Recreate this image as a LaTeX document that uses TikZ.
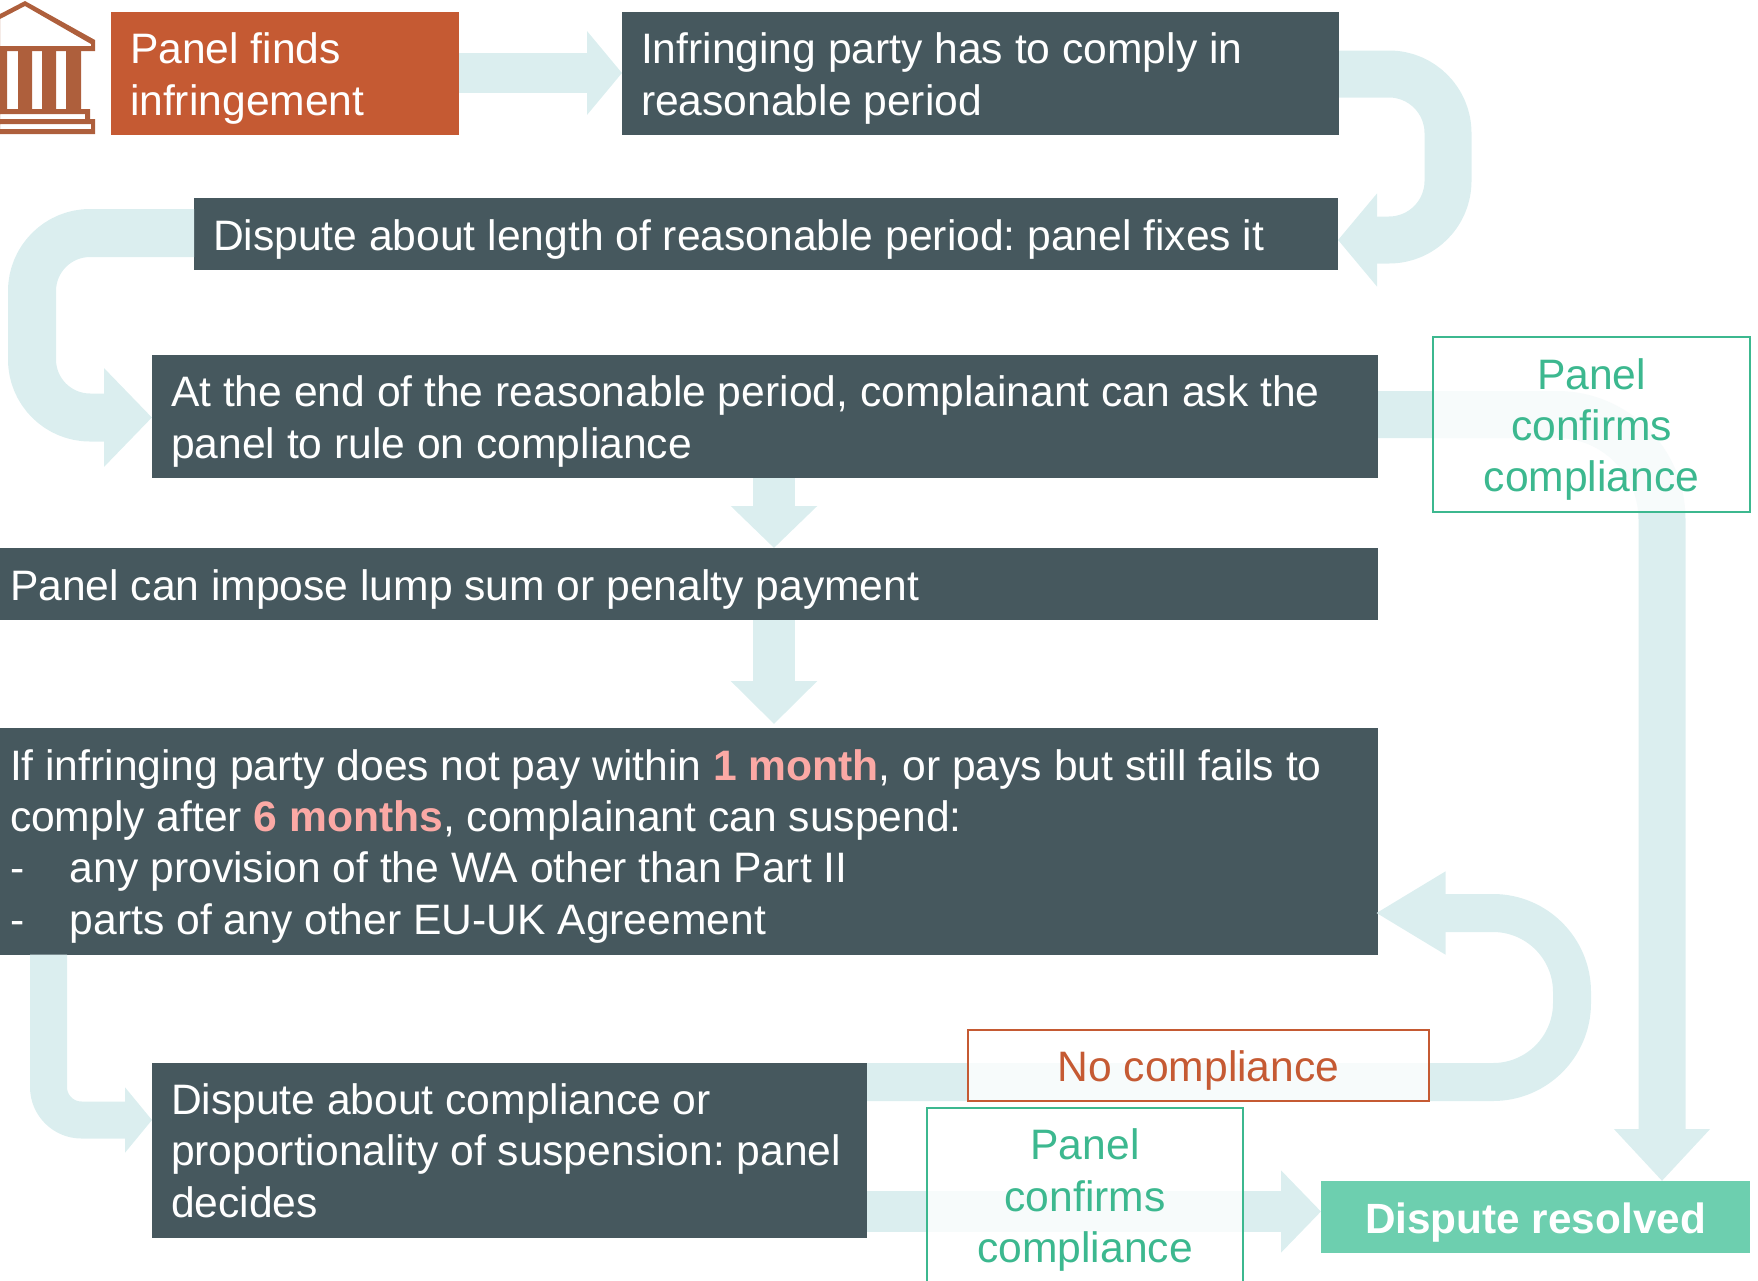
\documentclass[tikz,border=0pt]{standalone}
\usepackage{fontspec}
\setmainfont{Liberation Sans}
\usetikzlibrary{arrows.meta,calc}
\definecolor{darkbox}{HTML}{46585E}
\definecolor{orangebox}{HTML}{C55A33}
\definecolor{flowcol}{HTML}{DBEEEF}
\definecolor{greenfill}{HTML}{6DCFAF}
\definecolor{greentext}{HTML}{3CB88F}
\definecolor{hilite}{HTML}{FBA9A5}
\definecolor{iconcol}{HTML}{AE5F3C}
\newcommand{\hl}[1]{\textcolor{hilite}{\textbf{#1}}}
\newcommand{\dashitem}{\makebox[60pt][l]{-}}
\newcommand{\ts}{\rule{0pt}{41pt}}
\tikzset{
  bx/.style={anchor=north west,inner ysep=0pt,outer sep=0pt,align=flush left,text=white,
    font=\fontsize{42.6}{51.3}\selectfont\frenchspacing},
  darkb/.style={bx,fill=darkbox},
  tagb/.style={anchor=north west,inner sep=0pt,outer sep=0pt,align=center,draw=greentext,line width=2pt,
    fill=white,fill opacity=0.78,text opacity=1,draw opacity=1,text=greentext,
    font=\fontsize{42.6}{51.3}\selectfont\frenchspacing},
  flow/.style n args={3}{draw=flowcol,line width=#1pt,line join=round,
    -{Triangle[width=#2pt,length=#3pt,fill=flowcol]}},
}
\begin{document}
\begin{tikzpicture}[x=1pt,y=-1pt]
\useasboundingbox (0,0) rectangle (1758,1280);
\clip (0,0) rectangle (1758,1280);

% nodes
\node[bx,fill=orangebox,inner xsep=19pt,text width=310pt,minimum height=123pt] (finds) at (111,12) {\ts Panel finds\\infringement};
\node[darkb,inner xsep=19pt,text width=679pt,minimum height=123pt] (comply) at (622,12) {\ts Infringing party has to comply in\\reasonable period};
\node[darkb,inner xsep=19pt,text width=1106pt,minimum height=72pt] (length) at (194,198) {\ts Dispute about length of reasonable period: panel fixes it};
\node[darkb,inner xsep=19pt,text width=1188pt,minimum height=123pt] (endp) at (152,355) {\ts At the end of the reasonable period, complainant can ask the\\panel to rule on compliance};
\node[darkb,inner xsep=10pt,text width=1358pt,minimum height=72pt] (lump) at (0,548) {\ts Panel can impose lump sum or penalty payment};
\node[darkb,inner xsep=10pt,text width=1358pt,minimum height=227pt] (susp) at (0,727.7) {\ts If infringing party does not pay within \hl{1 month}, or pays but still fails to\\comply after \hl{6 months}, complainant can suspend:\\\dashitem any provision of the WA other than Part II\\\dashitem parts of any other EU-UK Agreement};
\node[darkb,inner xsep=19pt,text width=677pt,minimum height=175pt] (decide) at (152,1063) {Dispute about compliance or\\proportionality of suspension: panel\\decides};
\node[bx,fill=greenfill,inner xsep=0pt,text width=429pt,minimum height=72pt,align=flush center,font=\fontsize{42.3}{50}\selectfont\bfseries\frenchspacing] (resolved) at (1321,1181) {\ts Dispute resolved};

% connectors
\draw[flow={40}{82}{35}] (finds.east |- 0,73) -- (comply.west |- 0,73);
\draw[flow={47}{91}{39},rounded corners=59pt] (comply.east |- 0,74) -- (1448,74) -- (1448,240) -- (length.east |- 0,240);
\draw[flow={48}{96}{48},rounded corners=58pt] (length.west |- 0,233) -- (32,233) -- (32,417.5) -- (endp.west |- 0,417.5);
\draw[flow={47}{93}{52},rounded corners=105pt] (endp.east |- 0,414.5) -- (1662,414.5) -- (1662,1181) -- (resolved.north -| 1662,0);
\draw[flow={42}{84}{42}] (endp.south -| 774,0) -- (lump.north -| 774,0);
\draw[flow={42}{84}{43}] (lump.south -| 774,0) -- ($(susp.north -| 774,0)+(0,-3.7)$);
\draw[flow={38}{78}{70},rounded corners=79pt] (decide.east |- 0,1082) -- (1572,1082) -- (1572,913) -- ($(susp.east |- 0,913)+(-2.5,0)$);
\draw[flow={37}{64}{27},rounded corners=33pt] (susp.south -| 48.5,0) -- (48.5,1120) -- (decide.west |- 0,1120);
\draw[flow={41}{80}{40}] (decide.east |- 0,1211.5) -- (resolved.west |- 0,1211.5);

% label boxes over the connectors
\node[tagb,minimum width=317pt,minimum height=175.5pt] (conf1) at (1433,336.5) {\ts Panel\\confirms\\compliance};
\node[tagb,draw=orangebox,text=orangebox,minimum width=461pt,minimum height=71pt] (nocomp) at (968,1030) {\ts No compliance};
\node[tagb,minimum width=316pt,minimum height=174pt] (conf2) at (927,1108) {\ts Panel\\confirms\\compliance};

% building icon
\fill[iconcol,even odd rule]
  (25,1) -- (95,40) -- (95,51) -- (0,51) -- (0,14) -- cycle
  (25,6) -- (0,19) -- (0,46) -- (91,46) -- (91,44) -- cycle;
\fill[iconcol] (0,51) rectangle (7,110) (18,51) rectangle (32,110) (42,51) rectangle (56,110) (66,51) rectangle (81,110);
\fill[iconcol,even odd rule] (0,109) -- (90,109) -- (90,119) -- (95,119) -- (95,134) -- (0,134) -- cycle
  (0,114) rectangle (85,119) (0,124) rectangle (91,129);
\end{tikzpicture}
\end{document}
